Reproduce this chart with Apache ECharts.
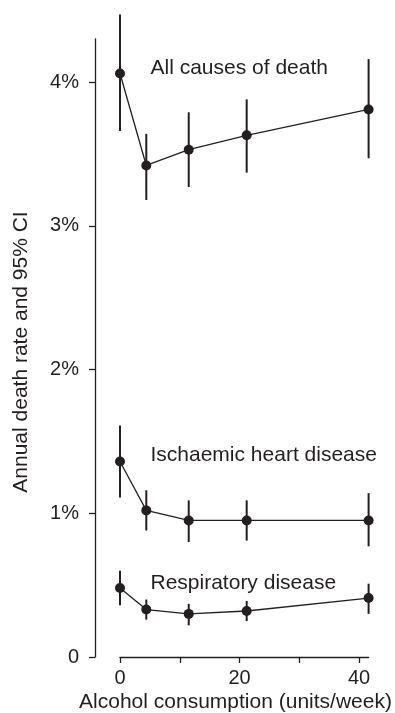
<!DOCTYPE html>
<html>
<head>
<meta charset="utf-8">
<script src="https://cdn.jsdelivr.net/npm/echarts@6/dist/echarts.min.js"></script>
<style>
html,body{margin:0;padding:0;background:#fff;}
#chart{width:395px;height:713px;}
</style>
</head>
<body>
<div id="chart"></div>
<script>
// Alcohol consumption (units/week) for each group
const xValues = [0, 4.4, 11.5, 21.2, 41.6];

// All causes of death (%)
const allCauses = [4.06, 3.42, 3.53, 3.63, 3.81];
const allLow    = [3.66, 3.18, 3.27, 3.37, 3.47];
const allHigh   = [4.47, 3.64, 3.79, 3.88, 4.16];

// Ischaemic heart disease (%)
const ihd     = [1.36, 1.02, 0.95, 0.95, 0.95];
const ihdLow  = [1.11, 0.88, 0.80, 0.81, 0.77];
const ihdHigh = [1.61, 1.16, 1.09, 1.09, 1.14];

// Respiratory disease (%)
const resp     = [0.48, 0.33, 0.30, 0.32, 0.41];
const respLow  = [0.36, 0.26, 0.22, 0.25, 0.30];
const respHigh = [0.60, 0.40, 0.37, 0.39, 0.51];

const xTicks = [0, 10, 20, 30, 40];
const xTickLabels = [0, 20, 40];
const yTicks = [0, 1, 2, 3, 4];

const seriesNames = ['All causes of death', 'Ischaemic heart disease', 'Respiratory disease'];

const INK = '#231f20';
const FONT = '"Liberation Sans", Arial, Helvetica, sans-serif';

function pts(ys) { return xValues.map((x, i) => [x, ys[i]]); }
function bars(lo, hi) { return xValues.map((x, i) => [x, lo[i], hi[i]]); }

function lineSeries(name, ys) {
  return {
    type: 'line', name: name, data: pts(ys),
    symbol: 'circle', symbolSize: 10, clip: false,
    lineStyle: { color: INK, width: 1.3 },
    itemStyle: { color: INK },
    z: 5, animation: false
  };
}
function errSeries(lo, hi) {
  return {
    type: 'custom', data: bars(lo, hi), clip: false,
    encode: { x: 0, y: [1, 2] },
    renderItem: function (params, api) {
      const x = api.value(0);
      const p1 = api.coord([x, api.value(1)]);
      const p2 = api.coord([x, api.value(2)]);
      return { type: 'line', shape: { x1: p1[0], y1: p1[1], x2: p2[0], y2: p2[1] },
               style: { stroke: INK, lineWidth: 2 } };
    },
    z: 3, animation: false
  };
}

const chart = echarts.init(document.getElementById('chart'), null, { renderer: 'canvas' });
chart.setOption({
  backgroundColor: '#fff',
  animation: false,
  grid: { left: 120, right: 26.4, top: 39, bottom: 56 },
  xAxis: {
    type: 'value', min: 0, max: 41.6,
    splitLine: { show: false },
    axisLine: { onZero: false, lineStyle: { color: INK, width: 1.3 } },
    axisTick: { length: 6, customValues: xTicks, lineStyle: { color: INK, width: 1.3 } },
    axisLabel: { customValues: xTickLabels, color: INK, fontSize: 20, fontFamily: FONT, margin: 11 }
  },
  yAxis: {
    type: 'value', min: 0, max: 4.3, offset: 25,
    splitLine: { show: false },
    axisLine: { show: true, onZero: false, lineStyle: { color: INK, width: 1.3 } },
    axisTick: { show: true, length: 6, customValues: yTicks, lineStyle: { color: INK, width: 1.3 } },
    axisLabel: { customValues: yTicks, color: INK, fontSize: 20, fontFamily: FONT, margin: 16,
      formatter: function (v) { return v === 0 ? '0' : v + '%'; } }
  },
  series: [
    errSeries(allLow, allHigh), lineSeries(seriesNames[0], allCauses),
    errSeries(ihdLow, ihdHigh), lineSeries(seriesNames[1], ihd),
    errSeries(respLow, respHigh), lineSeries(seriesNames[2], resp)
  ],
  graphic: [
    { type: 'text', x: 21.5, y: 352, rotation: Math.PI / 2,
      style: { text: 'Annual death rate and 95% CI', align: 'center', verticalAlign: 'middle', font: '21px ' + FONT, fill: INK } },
    { type: 'text', x: 235.5, y: 702,
      style: { text: 'Alcohol consumption (units/week)', align: 'center', verticalAlign: 'middle', font: '21px ' + FONT, fill: INK } },
    { type: 'text', x: 150.5, y: 68,
      style: { text: seriesNames[0], align: 'left', verticalAlign: 'middle', font: '21px ' + FONT, fill: INK } },
    { type: 'text', x: 150.5, y: 455.5,
      style: { text: seriesNames[1], align: 'left', verticalAlign: 'middle', font: '21px ' + FONT, fill: INK } },
    { type: 'text', x: 150.5, y: 583.7,
      style: { text: seriesNames[2], align: 'left', verticalAlign: 'middle', font: '21px ' + FONT, fill: INK } }
  ]
});
</script>
</body>
</html>
